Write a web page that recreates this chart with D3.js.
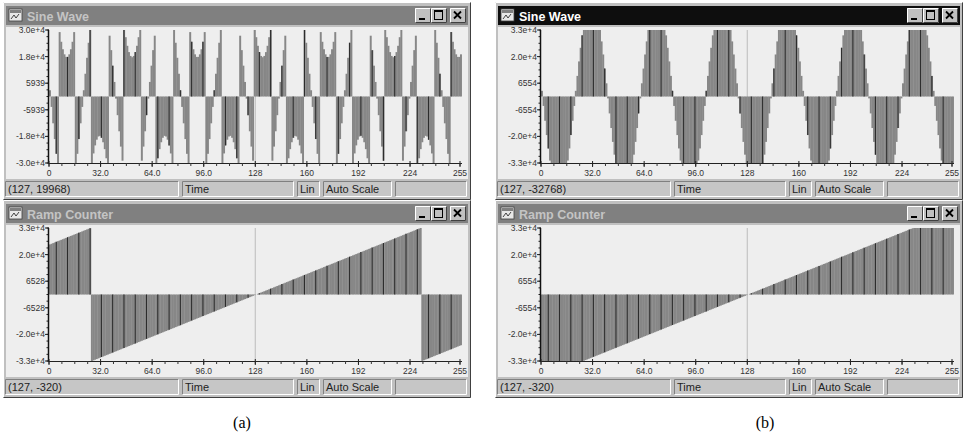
<!DOCTYPE html>
<html><head><meta charset="utf-8">
<script src="https://cdn.jsdelivr.net/npm/d3@7"></script>
<style>body{margin:0;background:#fff}svg{display:block}</style>
</head><body><svg id="c" width="968" height="436"></svg>
<script>
// ---------- DATA ----------
const sampleCount = 256;
const xTickValues = [0, 32, 64, 96, 128, 160, 192, 224, 255];
const xTickLabels = ["0", "32.0", "64.0", "96.0", "128", "160", "192", "224", "255"];

const sineWrappedTicks = [29695, 17817, 5939, -5939, -17817, -29695];
const sineWrappedLabels = ["3.0e+4", "1.8e+4", "5939", "-5939", "-1.8e+4", "-3.0e+4"];
const rampWrappedTicks = [32640, 19584, 6528, -6528, -19584, -32640];
const rampWrappedLabels = ["3.3e+4", "2.0e+4", "6528", "-6528", "-2.0e+4", "-3.3e+4"];
const saturatedTicks = [32768, 19661, 6554, -6554, -19661, -32768];
const saturatedLabels = ["3.3e+4", "2.0e+4", "6554", "-6554", "-2.0e+4", "-3.3e+4"];

const sineWrapped = [
2791,-4648,-11973,-19011,-25596,-31571,28766,24439,21101,18830,17681,
17681,18830,21101,24439,28766,-31571,-25596,-19011,-11973,-4648,2791,10160,17287,24000,30133,-29988,-25433,-21838,-19297,-17860,-17572,-18436,-20431,-23514,-27586,-32596,27150,20707,13766,6496,-931,-8335,-15535,-22370,-28664,31267,26483,22642,19828,18112,
17536,18112,19828,22642,26483,31267,-28664,-22370,-15535,-8335,-931,6496,13766,20707,27150,-32596,-27586,-23514,-20431,-18436,-17572,-17860,-19297,-21838,-25433,-29988,30133,24000,17287,10160,2791,-4648,-11973,-19011,-25596,-31571,28766,24439,21101,18830,17681,
17681,18830,21101,24439,28766,-31571,-25596,-19011,-11973,-4648,2791,10160,17287,24000,30133,-29988,-25433,-21838,-19297,-17860,-17572,-18436,-20431,-23514,-27586,-32596,27150,20707,13766,6496,-931,-8335,-15535,-22370,-28664,31267,26483,22642,19828,18112,
17536,18112,19828,22642,26483,31267,-28664,-22370,-15535,-8335,-931,6496,13766,20707,27150,-32596,-27586,-23514,-20431,-18436,-17572,-17860,-19297,-21838,-25433,-29988,30133,24000,17287,10160,2791,-4648,-11973,-19011,-25596,-31571,28766,24439,21101,18830,17681,
17681,18830,21101,24439,28766,-31571,-25596,-19011,-11973,-4648,2791,10160,17287,24000,30133,-29988,-25433,-21838,-19297,-17860,-17572,-18436,-20431,-23514,-27586,-32596,27150,20707,13766,6496,-931,-8335,-15535,-22370,-28664,31267,26483,22642,19828,18112,
17536,18112,19828,22642,26483,31267,-28664,-22370,-15535,-8335,-931,6496,13766,20707,27150,-32596,-27586,-23514,-20431,-18436,-17572,-17860,-19297,-21838,-25433,-29988,30133,24000,17287,10160,2791,-4648,-11973,-19011,-25596,-31571,28766,24439,21101,18830,17681,
17681,18830
];

const sineSaturated = [
2791,-4648,-11973,-19011,-25596,-31571,-32768,-32768,-32768,-32768,-32768,
-32768,-32768,-32768,-32768,-32768,-31571,-25596,-19011,-11973,-4648,2791,10160,17287,24000,30133,32767,32767,32767,32767,32767,32767,32767,32767,32767,32767,32767,27150,20707,13766,6496,-931,-8335,-15535,-22370,-28664,-32768,-32768,-32768,-32768,-32768,
-32768,-32768,-32768,-32768,-32768,-32768,-28664,-22370,-15535,-8335,-931,6496,13766,20707,27150,32767,32767,32767,32767,32767,32767,32767,32767,32767,32767,32767,30133,24000,17287,10160,2791,-4648,-11973,-19011,-25596,-31571,-32768,-32768,-32768,-32768,-32768,
-32768,-32768,-32768,-32768,-32768,-31571,-25596,-19011,-11973,-4648,2791,10160,17287,24000,30133,32767,32767,32767,32767,32767,32767,32767,32767,32767,32767,32767,27150,20707,13766,6496,-931,-8335,-15535,-22370,-28664,-32768,-32768,-32768,-32768,-32768,
-32768,-32768,-32768,-32768,-32768,-32768,-28664,-22370,-15535,-8335,-931,6496,13766,20707,27150,32767,32767,32767,32767,32767,32767,32767,32767,32767,32767,32767,30133,24000,17287,10160,2791,-4648,-11973,-19011,-25596,-31571,-32768,-32768,-32768,-32768,-32768,
-32768,-32768,-32768,-32768,-32768,-31571,-25596,-19011,-11973,-4648,2791,10160,17287,24000,30133,32767,32767,32767,32767,32767,32767,32767,32767,32767,32767,32767,27150,20707,13766,6496,-931,-8335,-15535,-22370,-28664,-32768,-32768,-32768,-32768,-32768,
-32768,-32768,-32768,-32768,-32768,-32768,-28664,-22370,-15535,-8335,-931,6496,13766,20707,27150,32767,32767,32767,32767,32767,32767,32767,32767,32767,32767,32767,30133,24000,17287,10160,2791,-4648,-11973,-19011,-25596,-31571,-32768,-32768,-32768,-32768,-32768,
-32768,-32768
];

const rampHeadWrapped = [24576,24896,25216,25536,25856,26176,26496,26816,27136,27456,27776,28096,28416,28736,29056,29376,29696,30016,30336,30656,30976,31296,31616,31936,32256,32576];
const rampHeadSaturated = [-32768,-32768,-32768,-32768,-32768,-32768,-32768,-32768,-32768,-32768,-32768,-32768,-32768,-32768,-32768,-32768,-32768,-32768,-32768,-32768,-32768,-32768,-32768,-32768,-32768,-32768];
const rampMiddle = [
-32640,-32320,-32000,-31680,-31360,-31040,-30720,-30400,-30080,-29760,
-29440,-29120,-28800,-28480,-28160,-27840,-27520,-27200,-26880,-26560,
-26240,-25920,-25600,-25280,-24960,-24640,-24320,-24000,-23680,-23360,
-23040,-22720,-22400,-22080,-21760,-21440,-21120,-20800,-20480,-20160,
-19840,-19520,-19200,-18880,-18560,-18240,-17920,-17600,-17280,-16960,
-16640,-16320,-16000,-15680,-15360,-15040,-14720,-14400,-14080,-13760,
-13440,-13120,-12800,-12480,-12160,-11840,-11520,-11200,-10880,-10560,
-10240,-9920,-9600,-9280,-8960,-8640,-8320,-8000,-7680,-7360,
-7040,-6720,-6400,-6080,-5760,-5440,-5120,-4800,-4480,-4160,
-3840,-3520,-3200,-2880,-2560,-2240,-1920,-1600,-1280,-960,
-640,-320,0,
320,640,960,1280,1600,1920,2240,2560,2880,3200,
3520,3840,4160,4480,4800,5120,5440,5760,6080,6400,
6720,7040,7360,7680,8000,8320,8640,8960,9280,9600,
9920,10240,10560,10880,11200,11520,11840,12160,12480,12800,
13120,13440,13760,14080,14400,14720,15040,15360,15680,16000,
16320,16640,16960,17280,17600,17920,18240,18560,18880,19200,
19520,19840,20160,20480,20800,21120,21440,21760,22080,22400,
22720,23040,23360,23680,24000,24320,24640,24960,25280,25600,
25920,26240,26560,26880,27200,27520,27840,28160,28480,28800,
29120,29440,29760,30080,30400,30720,31040,31360,31680,32000,
32320,32640];
const rampTailWrapped = [-32576,-32256,-31936,-31616,-31296,-30976,-30656,-30336,-30016,-29696,-29376,-29056,-28736,-28416,-28096,-27776,-27456,-27136,-26816,-26496,-26176,-25856,-25536,-25216,-24896];
const rampTailSaturated = [32767,32767,32767,32767,32767,32767,32767,32767,32767,32767,32767,32767,32767,32767,32767,32767,32767,32767,32767,32767,32767,32767,32767,32767,32767];

const rampWrapped = rampHeadWrapped.concat(rampMiddle, rampTailWrapped);
const rampSaturated = rampHeadSaturated.concat(rampMiddle, rampTailSaturated);

const cursorIndex = 127;
const windows = [
  {title: "Sine Wave", active: false, wx: 3,   wy: 2,   data: sineWrapped,   yMax: 29695, ticks: sineWrappedTicks, labels: sineWrappedLabels, status: "(127, 19968)"},
  {title: "Ramp Counter", active: false, wx: 3, wy: 200, data: rampWrapped,   yMax: 32640, ticks: rampWrappedTicks, labels: rampWrappedLabels, status: "(127, -320)"},
  {title: "Sine Wave", active: true,  wx: 495, wy: 2,   data: sineSaturated, yMax: 32768, ticks: saturatedTicks,  labels: saturatedLabels,  status: "(127, -32768)"},
  {title: "Ramp Counter", active: false, wx: 495, wy: 200, data: rampSaturated, yMax: 32768, ticks: saturatedTicks, labels: saturatedLabels, status: "(127, -320)"}
];
const captions = [{text: "(a)", cx: 242}, {text: "(b)", cx: 765}];

// ---------- DRAW ----------
const svg = d3.select("#c");
const UI = "'Liberation Sans', Arial, sans-serif";
const WW = 468, WH = 198;

function bevel(g, x, y, w, h, raised, fill) {
  g.append("rect").attr("x", x).attr("y", y).attr("width", w).attr("height", h).attr("fill", fill);
  const tl = raised ? "#ffffff" : "#808080", br = raised ? "#404040" : "#ffffff";
  g.append("path").attr("d", `M${x+0.5},${y+h-0.5}V${y+0.5}H${x+w-0.5}`).attr("stroke", tl).attr("fill", "none");
  g.append("path").attr("d", `M${x+0.5},${y+h-0.5}H${x+w-0.5}V${y+0.5}`).attr("stroke", br).attr("fill", "none");
}

windows.forEach((win, wi) => {
  const g = svg.append("g");
  const X = win.wx, Y = win.wy;
  // frame
  bevel(g, X, Y, WW, WH, true, "#c0c0c0");
  // title bar
  g.append("rect").attr("x", X + 3).attr("y", Y + 4).attr("width", WW - 6).attr("height", 19)
    .attr("fill", win.active ? "#0e0e0e" : "#808080");
  // icon
  g.append("rect").attr("x", X + 6).attr("y", Y + 7).attr("width", 13).attr("height", 12).attr("fill", "#e8e8e8").attr("stroke", "#404040").attr("stroke-width", 0.8);
  g.append("rect").attr("x", X + 7).attr("y", Y + 8).attr("width", 11).attr("height", 3).attr("fill", "#808080");
  g.append("path").attr("d", `M${X+8},${Y+17}l3,-4l2,3l3,-4`).attr("stroke", "#404040").attr("fill", "none");
  g.append("text").attr("x", X + 24).attr("y", Y + 18.5).text(win.title)
    .attr("font-family", UI).attr("font-weight", "bold").attr("font-size", 12.5)
    .attr("fill", win.active ? "#ffffff" : "#c4c4c4");
  // buttons
  const bx = [X + WW - 56, X + WW - 40, X + WW - 21];
  bx.forEach((b, k) => {
    bevel(g, b, Y + 6, 16, 15, true, "#c0c0c0");
    if (k === 0) g.append("rect").attr("x", b + 4).attr("y", Y + 16).attr("width", 6).attr("height", 2).attr("fill", "#000");
    if (k === 1) {
      g.append("rect").attr("x", b + 3.5).attr("y", Y + 8.5).attr("width", 8).attr("height", 9).attr("fill", "none").attr("stroke", "#000");
      g.append("rect").attr("x", b + 3.5).attr("y", Y + 8.5).attr("width", 8).attr("height", 1.5).attr("fill", "#000");
    }
    if (k === 2) g.append("path").attr("d", `M${b+4},${Y+9.5}l7,7M${b+11},${Y+9.5}l-7,7`).attr("stroke", "#000").attr("stroke-width", 1.8);
  });
  // content background
  g.append("rect").attr("x", X + 3).attr("y", Y + 25).attr("width", WW - 6).attr("height", 152).attr("fill", "#eeeeee");

  const x0 = X + 46, x1 = x0 + 411;
  const yTop = Y + 28, yBot = Y + 161;
  const xs = d3.scaleLinear().domain([0, 255]).range([x0, x1]);
  const ys = d3.scaleLinear().domain([-win.yMax, win.yMax]).range([yBot, yTop]);

  const clipId = "clip" + wi;
  g.append("clipPath").attr("id", clipId).append("rect")
    .attr("x", x0).attr("y", yTop).attr("width", X + WW - 5 - x0).attr("height", yBot - yTop);
  const plot = g.append("g").attr("clip-path", `url(#${clipId})`);

  // cursor line
  plot.append("line").attr("x1", xs(cursorIndex + 1)).attr("x2", xs(cursorIndex + 1)).attr("y1", yTop).attr("y2", yBot)
    .attr("stroke", "#c4c4c4").attr("stroke-width", 1.2);

  // bars
  plot.selectAll("rect.bar").data(win.data).join("rect").attr("class", "bar")
    .attr("x", (d, i) => xs(i))
    .attr("width", (d, i) => xs(i + 1) - xs(i) + 0.35)
    .attr("y", d => Math.min(ys(d), ys(0)))
    .attr("height", d => Math.abs(ys(d) - ys(0)))
    .attr("fill", "#878787");
  // dark stems (scan moire)
  plot.selectAll("line.stem").data(win.data.map((d, i) => ({d, i})).filter(o => o.i % 7 === 4)).join("line")
    .attr("class", "stem")
    .attr("x1", o => xs(o.i) + 0.8).attr("x2", o => xs(o.i) + 0.8)
    .attr("y1", ys(0)).attr("y2", o => ys(o.d))
    .attr("stroke", "#2c2c2c").attr("stroke-width", 1.1);

  // y axis
  const minorY = [];
  for (let k = -10; k <= 10; k++) minorY.push(k * win.yMax / 10);
  g.selectAll("line.ym").data(minorY).join("line").attr("class", "ym")
    .attr("x1", x0 - 2.5).attr("x2", x0).attr("y1", d => ys(d)).attr("y2", d => ys(d))
    .attr("stroke", "#222");
  g.selectAll("line.yM").data(win.ticks).join("line").attr("class", "yM")
    .attr("x1", x0 - 4).attr("x2", x0).attr("y1", d => ys(d)).attr("y2", d => ys(d))
    .attr("stroke", "#222");
  g.selectAll("text.yl").data(win.ticks).join("text").attr("class", "yl")
    .attr("x", x0 - 4).attr("y", d => ys(d) + 3).attr("text-anchor", "end")
    .attr("font-family", UI).attr("font-size", 8.5).attr("fill", "#333")
    .text((d, i) => win.labels[i]);
  g.append("line").attr("x1", x0 - 0.5).attr("x2", x0 - 0.5).attr("y1", yTop).attr("y2", yBot + 1)
    .attr("stroke", "#111").attr("stroke-width", 1.5);

  // x axis
  const minorX = d3.range(0, 256, 8).concat([255]);
  g.append("line").attr("x1", x0).attr("x2", x1 + 2).attr("y1", yBot + 0.5).attr("y2", yBot + 0.5).attr("stroke", "#222").attr("stroke-width", 1.2);
  g.selectAll("line.xm").data(minorX).join("line").attr("class", "xm")
    .attr("x1", d => xs(d)).attr("x2", d => xs(d)).attr("y1", yBot).attr("y2", yBot + 3)
    .attr("stroke", "#333");
  g.selectAll("line.xM").data(xTickValues).join("line").attr("class", "xM")
    .attr("x1", d => xs(d)).attr("x2", d => xs(d)).attr("y1", yBot - 2).attr("y2", yBot + 4)
    .attr("stroke", "#222");
  g.selectAll("text.xl").data(xTickValues).join("text").attr("class", "xl")
    .attr("x", d => xs(d)).attr("y", yBot + 13).attr("text-anchor", "middle")
    .attr("font-family", UI).attr("font-size", 8.5).attr("fill", "#333")
    .text((d, i) => xTickLabels[i]);

  // status bar
  const boxes = [[2, 174, win.status], [179, 112, "Time"], [294, 23, "Lin"], [320, 69, "Auto Scale"], [392, 72, ""]];
  boxes.forEach(([bx0, bw, t]) => {
    bevel(g, X + bx0, Y + 179, bw, 16, false, "#c6c6c6");
    if (t) g.append("text").attr("x", X + bx0 + 3).attr("y", Y + 191).text(t)
      .attr("font-family", UI).attr("font-size", 11).attr("fill", "#222");
  });
});

svg.selectAll("text.cap").data(captions).join("text").attr("class", "cap")
  .attr("x", d => d.cx).attr("y", 428).attr("text-anchor", "middle")
  .attr("font-family", "'Liberation Serif', 'Times New Roman', serif").attr("font-size", 16).attr("fill", "#000")
  .text(d => d.text);
</script></body></html>
